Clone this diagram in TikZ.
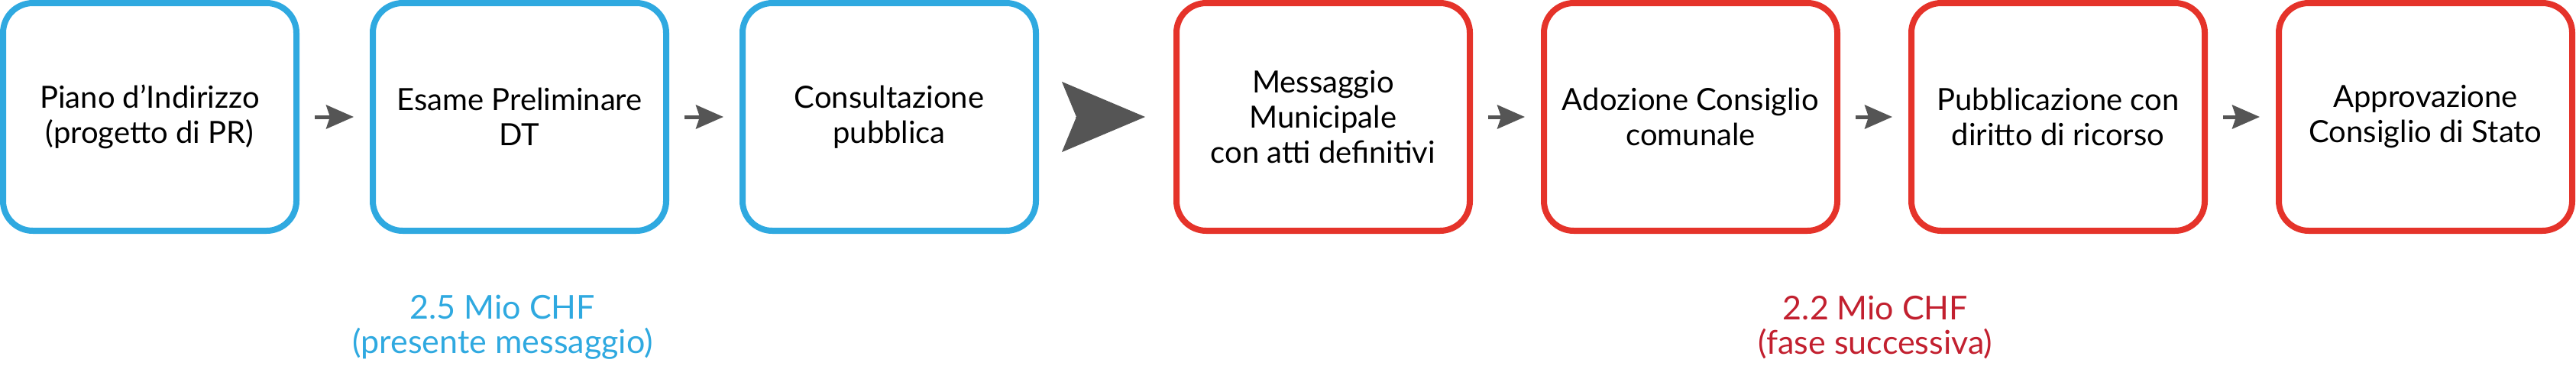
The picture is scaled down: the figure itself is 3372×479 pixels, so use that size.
\documentclass[tikz,border=0pt]{standalone}
\usepackage{fontspec}
\setmainfont{Lato}
\usepackage{tikz}
\usetikzlibrary{arrows.meta}
\definecolor{pr_blue}{HTML}{2FA9E0}
\definecolor{pr_red}{HTML}{E5332A}
\definecolor{cost_red}{HTML}{C2202F}
\definecolor{arrow_gray}{HTML}{555555}

\begin{document}
\begin{tikzpicture}[x=1pt, y=-1pt,
    phase/.style={draw, line width=8pt, rounded corners=39pt, minimum width=384pt,
      minimum height=298pt, inner sep=0pt, align=center, text=black,
      font=\fontsize{40}{46}\selectfont},
    blue_phase/.style={phase, draw=pr_blue},
    red_phase/.style={phase, draw=pr_red},
    next_arrow/.style={-{Stealth[length=36pt, width=31pt, inset=5pt]}, line width=5pt,
      arrow_gray, shorten <=20pt, shorten >=21pt},
    big_arrow/.style={-{Stealth[length=109pt, width=92pt, inset=19pt]}, line width=1pt,
      arrow_gray, shorten <=48pt, shorten >=37pt},
    cost/.style={align=center, inner sep=0pt, font=\fontsize{43}{45}\selectfont}]

      \useasboundingbox (0,0) rectangle (3372,479);

      % Draw the first phase (blue)
      \node[blue_phase] (b1) at (196,153) {Piano d’Indirizzo\\(progetto di PR)};
      \node[blue_phase] (b2) at (680,153) {Esame Preliminare\\DT};
      \node[blue_phase] (b3) at (1164,153) {Consultazione\\pubblica};

      % Draw the second phase (red)
      \node[red_phase] (r1) at (1732,153) {Messaggio\\Municipale\\con atti definitivi};
      \node[red_phase] (r2) at (2213,153) {Adozione Consiglio\\comunale};
      \node[red_phase] (r3) at (2694,153) {Pubblicazione con\\diritto di ricorso};
      \node[red_phase] (r4) at (3175,153) {Approvazione\\Consiglio di Stato};

      % Arrows between the steps
      \draw[next_arrow] (b1.east) -- (b2.west);
      \draw[next_arrow] (b2.east) -- (b3.west);
      \draw[big_arrow] (b3.east) -- (r1.west);
      \draw[next_arrow] (r1.east) -- (r2.west);
      \draw[next_arrow] (r2.east) -- (r3.west);
      \draw[next_arrow] (r3.east) -- (r4.west);

      % Costs
      \node[cost, text=pr_blue] (cost_pr) at (658,428) {2.5 Mio CHF\\(presente messaggio)};
      \node[cost, text=cost_red] (cost_fase) at (2455,428) {2.2 Mio CHF\\(fase successiva)};

\end{tikzpicture}
\end{document}
